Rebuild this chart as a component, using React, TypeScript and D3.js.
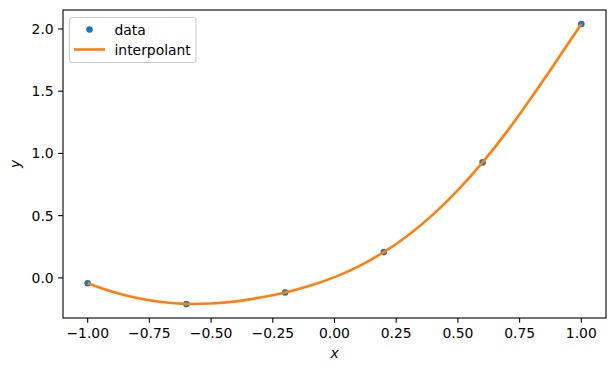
import React from 'react';
import * as d3 from 'd3';

// sample points
const dataX = [-1.0, -0.6, -0.2, 0.2, 0.6, 1.0];
const dataY = [-0.043, -0.211, -0.118, 0.207, 0.928, 2.04];

// interpolant curve
const curveX = [-1.0, -0.9, -0.8, -0.7, -0.6, -0.5, -0.4, -0.3, -0.2, -0.1, 0.0, 0.1, 0.2, 0.3, 0.4, 0.5, 0.6, 0.7, 0.8, 0.9, 1.0];
const curveY = [-0.043, -0.112, -0.162, -0.194, -0.209, -0.206, -0.189, -0.158, -0.118, -0.064, 0.006, 0.095, 0.207, 0.345, 0.51, 0.705, 0.928, 1.179, 1.455, 1.745, 2.04];

const xTicks = [-1.0, -0.75, -0.5, -0.25, 0.0, 0.25, 0.5, 0.75, 1.0];
const yTicks = [0.0, 0.5, 1.0, 1.5, 2.0];

const W = 614;
const H = 371;
const margin = {top: 10, right: 8, bottom: 53, left: 63};
const font = '"DejaVu Sans", sans-serif';
const blue = '#1f77b4';
const orange = '#ff7f0e';

const App = () => {
    const x = d3.scaleLinear().domain([-1.1, 1.1]).range([margin.left, W - margin.right]);
    const y = d3.scaleLinear().domain([-0.3225, 2.1525]).range([H - margin.bottom, margin.top]);

    const line = d3.line<number>()
        .x((_, i) => x(curveX[i]))
        .y(d => y(d))
        .curve(d3.curveNatural);

    const x0 = margin.left;
    const x1 = W - margin.right;
    const y0 = H - margin.bottom;
    const y1 = margin.top;
    const tick = 4.86;

    return (
        <svg width={W} height={H} style={{position: 'absolute', left: 0, top: 0, background: '#fff'}}
             fontFamily={font}>
            <rect x={0} y={0} width={W} height={H} fill="#fff"/>

            {/* data points */}
            {dataY.map((v, i) => (
                <circle key={i} cx={x(dataX[i])} cy={y(v)} r={3.3} fill={blue}/>
            ))}

            {/* interpolant */}
            <path d={line(curveY) || ''} fill="none" stroke={orange} strokeWidth={2.6}
                  strokeLinejoin="round" strokeLinecap="butt"/>

            {/* frame */}
            <rect x={x0} y={y1} width={x1 - x0} height={y0 - y1} fill="none" stroke="#000" strokeWidth={1.1}/>

            {/* x axis */}
            {xTicks.map(t => (
                <g key={t} transform={`translate(${x(t)},${y0})`}>
                    <line y1={0} y2={tick} stroke="#000" strokeWidth={1.1}/>
                    <text y={tick + 15.5} textAnchor="middle" fontSize={13.9} fill="#000">
                        {d3.format('.2f')(t).replace('-', '\u2212')}
                    </text>
                </g>
            ))}
            <text x={(x0 + x1) / 2} y={358} textAnchor="middle" fontSize={13.9} fontStyle="italic">x</text>

            {/* y axis */}
            {yTicks.map(t => (
                <g key={t} transform={`translate(${x0},${y(t)})`}>
                    <line x1={0} x2={-tick} stroke="#000" strokeWidth={1.1}/>
                    <text x={-tick - 4.5} dy="0.36em" textAnchor="end" fontSize={13.9} fill="#000">
                        {d3.format('.1f')(t)}
                    </text>
                </g>
            ))}
            <text transform={`translate(20,${(y0 + y1) / 2}) rotate(-90)`} textAnchor="middle" fontSize={13.9}
                  fontStyle="italic">y</text>

            {/* legend */}
            <g>
                <rect x={69.5} y={17.5} width={126.5} height={45} rx={3} fill="#fff" fillOpacity={0.8}
                      stroke="#cccccc" strokeWidth={1.1}/>
                <circle cx={89.5} cy={29.5} r={3.3} fill={blue}/>
                <text x={114.5} y={34.5} fontSize={13.9}>data</text>
                <line x1={74} x2={105} y1={49.5} y2={49.5} stroke={orange} strokeWidth={2.6}/>
                <text x={114.5} y={54.5} fontSize={13.9}>interpolant</text>
            </g>
        </svg>
    );
};

export default App;
